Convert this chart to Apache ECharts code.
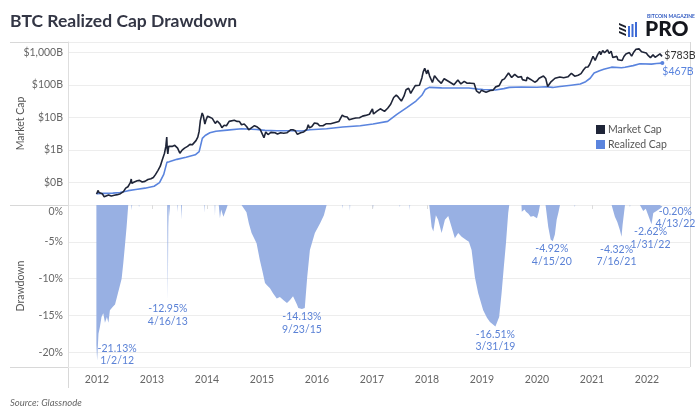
<!DOCTYPE html>
<html><head><meta charset="utf-8">
<script src="https://cdn.jsdelivr.net/npm/echarts@6/dist/echarts.min.js"></script>
<style>html,body{margin:0;padding:0;background:#fff}#c{width:700px;height:420px}</style>
</head><body><div id="c"></div>
<script>
// ---------- DATA ----------
const xTicks = [2012,2013,2014,2015,2016,2017,2018,2019,2020,2021,2022];
const mcTicksB = [0.1,1,10,100,1000];
const ddTicks = [0,-5,-10,-15,-20];

const mcDates = ['2011-12-29','2012-01-03','2012-01-09','2012-01-14','2012-01-22','2012-02-05','2012-02-18','2012-03-01','2012-03-18','2012-04-05','2012-04-25','2012-05-15','2012-06-05','2012-06-25','2012-07-10','2012-07-25','2012-08-10','2012-08-16','2012-08-20','2012-09-05','2012-09-25','2012-10-10','2012-10-28','2012-11-15','2012-12-05','2012-12-25','2013-01-10','2013-01-25','2013-02-10','2013-02-25','2013-03-10','2013-03-25','2013-04-03','2013-04-09','2013-04-12','2013-04-16','2013-04-22','2013-05-01','2013-05-15','2013-06-01','2013-06-20','2013-07-05','2013-07-20','2013-08-05','2013-08-25','2013-09-10','2013-09-25','2013-10-05','2013-10-20','2013-11-01','2013-11-10','2013-11-18','2013-11-30','2013-12-07','2013-12-12','2013-12-18','2013-12-26','2014-01-05','2014-01-20','2014-02-05','2014-02-25','2014-03-10','2014-03-28','2014-04-10','2014-04-25','2014-05-10','2014-05-28','2014-06-10','2014-07-01','2014-07-20','2014-08-05','2014-08-18','2014-09-05','2014-09-22','2014-10-05','2014-10-25','2014-11-12','2014-12-01','2014-12-20','2015-01-01','2015-01-14','2015-01-26','2015-02-10','2015-03-01','2015-03-12','2015-03-28','2015-04-14','2015-05-05','2015-05-25','2015-06-15','2015-07-10','2015-07-25','2015-08-10','2015-08-24','2015-09-15','2015-10-05','2015-10-25','2015-11-04','2015-11-12','2015-11-28','2015-12-15','2016-01-05','2016-01-18','2016-02-10','2016-03-01','2016-04-01','2016-05-01','2016-05-25','2016-06-17','2016-07-01','2016-07-20','2016-08-02','2016-08-25','2016-09-15','2016-10-10','2016-10-30','2016-11-20','2016-12-15','2017-01-04','2017-01-11','2017-02-01','2017-02-25','2017-03-10','2017-03-25','2017-04-15','2017-05-05','2017-05-25','2017-06-11','2017-06-25','2017-07-15','2017-08-01','2017-08-15','2017-09-01','2017-09-15','2017-09-28','2017-10-15','2017-10-28','2017-11-12','2017-11-28','2017-12-07','2017-12-17','2017-12-30','2018-01-07','2018-01-18','2018-02-06','2018-02-20','2018-03-05','2018-03-18','2018-04-06','2018-04-25','2018-05-05','2018-05-28','2018-06-29','2018-07-25','2018-08-14','2018-09-05','2018-09-25','2018-10-15','2018-11-10','2018-11-25','2018-12-15','2018-12-28','2019-01-07','2019-01-28','2019-02-07','2019-02-25','2019-03-15','2019-04-02','2019-04-25','2019-05-15','2019-05-30','2019-06-10','2019-06-26','2019-07-17','2019-07-28','2019-08-06','2019-08-28','2019-09-20','2019-09-26','2019-10-23','2019-10-27','2019-11-20','2019-12-17','2019-12-31','2020-01-15','2020-02-13','2020-02-28','2020-03-12','2020-04-01','2020-04-30','2020-05-10','2020-06-01','2020-06-27','2020-07-25','2020-08-17','2020-09-08','2020-10-01','2020-10-20','2020-11-05','2020-11-20','2020-12-05','2020-12-17','2021-01-08','2021-01-22','2021-02-08','2021-02-21','2021-02-28','2021-03-13','2021-03-25','2021-04-14','2021-04-25','2021-05-08','2021-05-19','2021-06-01','2021-06-15','2021-06-22','2021-07-05','2021-07-20','2021-08-01','2021-08-14','2021-09-06','2021-09-21','2021-10-06','2021-10-20','2021-10-28','2021-11-09','2021-11-26','2021-12-04','2021-12-27','2022-01-10','2022-01-24','2022-02-10','2022-02-24','2022-03-08','2022-03-28','2022-04-11','2022-04-13'];
const mcValues = [0.045,0.042,0.058,0.05,0.052,0.046,0.037,0.04,0.042,0.039,0.041,0.043,0.046,0.053,0.068,0.075,0.1,0.13,0.096,0.105,0.115,0.118,0.105,0.11,0.125,0.132,0.145,0.18,0.24,0.32,0.5,0.8,1.3,2.5,1.1,0.76,1.3,1.2,1.3,1.4,1.15,0.8,1.0,1.15,1.3,1.5,1.45,1.55,1.95,2.5,3.8,8.0,13.8,11.5,10.5,6.3,8.5,11.0,10.2,9.4,6.6,7.8,6.4,4.9,5.8,5.6,7.6,8.2,8.2,7.6,7.5,6.0,6.3,5.2,4.2,4.9,5.6,5.1,4.3,4.3,2.4,3.6,3.0,3.5,4.0,3.4,3.1,3.4,3.3,3.4,4.2,4.2,3.9,3.05,3.4,3.6,4.3,6.0,4.8,5.3,6.8,6.5,5.6,5.6,6.4,6.4,7.0,7.5,11.8,10.7,10.4,8.5,9.2,9.7,9.8,11.0,11.6,12.6,18.2,12.8,15.5,18.5,19.8,15.4,19.2,25.5,41,48.5,42,32,45,71,79,55,70,95,100,98,164,250,323,218,285,190,118,190,194,135,112,155,167,125,101,142,107,128,112,113,110,66,56,68,71,60,60,67,69,87,95,142,153,140,231,169,170,211,172,179,145,135,171,147,121,131,160,188,158,89,121,160,160,175,165,177,227,185,198,222,285,346,355,428,754,568,860,1072,840,1138,970,1187,916,1085,692,684,750,590,630,559,745,893,978,764,1030,1243,1135,1272,1035,925,958,790,687,834,702,735,894,750,783];

const rcDates = ['2011-12-28','2012-01-02','2012-02-15','2012-04-15','2012-06-02','2012-07-27','2012-09-15','2012-11-15','2013-01-15','2013-02-20','2013-03-20','2013-04-10','2013-04-16','2013-04-25','2013-06-15','2013-08-15','2013-10-15','2013-11-10','2013-11-20','2013-12-01','2013-12-20','2014-01-20','2014-03-01','2014-05-15','2014-08-18','2014-11-26','2015-01-21','2015-04-09','2015-07-06','2015-09-23','2015-11-15','2016-03-05','2016-06-20','2016-10-15','2017-01-08','2017-04-15','2017-06-15','2017-08-20','2017-10-20','2017-11-28','2017-12-20','2018-01-16','2018-04-08','2018-07-05','2018-10-06','2018-11-15','2018-12-07','2019-01-09','2019-03-31','2019-05-26','2019-07-01','2019-09-20','2020-01-01','2020-02-27','2020-04-15','2020-06-02','2020-08-15','2020-10-15','2020-11-20','2020-12-20','2021-01-15','2021-02-20','2021-03-20','2021-05-11','2021-07-16','2021-08-08','2021-10-01','2021-11-15','2022-01-31','2022-03-05','2022-04-13'];
const rcValues = [0.046,0.044,0.047,0.048,0.05,0.057,0.062,0.068,0.078,0.1,0.18,0.42,0.37,0.44,0.52,0.6,0.72,0.9,1.4,2.3,2.8,3.4,3.8,4.1,4.5,4.27,4.02,3.93,3.92,3.86,4.23,4.5,5.1,5.6,6.3,7.6,12.5,20,32,48,72,84,81,80,80,76,74,72,70,77,84,86,85,88,83.7,89,98,106,125,160,230,270,300,350,335,350,390,445,434,452,467];

const ddDates = ['2011-12-28','2012-01-02','2012-01-11','2012-01-21','2012-01-31','2012-02-12','2012-02-23','2012-03-07','2012-03-17','2012-03-27','2012-04-17','2012-04-30','2012-05-13','2012-06-02','2012-06-13','2012-06-24','2012-07-05','2012-07-16','2012-07-27','2012-08-17','2012-08-19','2012-08-22','2012-10-05','2012-10-07','2012-10-09','2013-04-12','2013-04-16','2013-04-19','2013-04-23','2013-04-26','2013-04-30','2013-06-19','2013-06-21','2013-06-23','2013-07-13','2013-07-16','2013-07-19','2013-12-14','2013-12-16','2013-12-18','2014-02-21','2014-02-23','2014-02-25','2014-03-20','2014-03-28','2014-04-05','2014-04-20','2014-05-10','2014-05-18','2014-08-18','2014-09-20','2014-10-06','2014-10-24','2014-11-26','2014-12-18','2015-01-04','2015-01-21','2015-02-03','2015-02-23','2015-03-15','2015-04-09','2015-04-30','2015-05-22','2015-06-16','2015-07-06','2015-07-26','2015-08-08','2015-08-21','2015-08-30','2015-09-23','2015-10-12','2015-10-28','2015-11-15','2015-12-18','2016-01-21','2016-02-16','2016-03-05','2016-06-18','2016-06-20','2016-06-22','2016-08-05','2016-08-07','2016-08-09','2017-01-06','2017-01-08','2017-01-10','2017-07-03','2017-07-05','2017-07-07','2017-09-07','2017-09-09','2017-09-11','2018-01-16','2018-02-01','2018-02-12','2018-03-01','2018-03-16','2018-04-08','2018-04-30','2018-05-22','2018-06-13','2018-07-05','2018-07-27','2018-08-19','2018-09-21','2018-10-06','2018-10-24','2018-11-15','2018-12-07','2019-01-09','2019-02-03','2019-02-23','2019-03-31','2019-04-25','2019-05-11','2019-05-26','2019-06-09','2019-06-24','2019-07-01','2019-09-20','2019-09-22','2019-10-10','2019-10-20','2019-11-05','2019-11-20','2019-12-08','2020-01-01','2020-01-12','2020-01-21','2020-02-27','2020-03-16','2020-04-01','2020-04-15','2020-04-29','2020-05-11','2020-05-23','2020-06-02','2020-09-07','2020-09-09','2020-09-11','2021-05-11','2021-06-02','2021-06-18','2021-07-05','2021-07-16','2021-07-23','2021-08-01','2021-08-08','2021-09-08','2021-09-10','2021-09-12','2021-11-15','2021-12-07','2021-12-24','2022-01-09','2022-01-31','2022-02-12','2022-03-05','2022-03-16','2022-03-27','2022-04-13'];
const ddValues = [-19.0,-21.13,-17.5,-16.5,-15.2,-14.7,-16.0,-15.2,-16.0,-14.3,-13.8,-13.5,-12.5,-10.9,-10.0,-7.9,-5.5,-3.0,0,0,-0.7,0,0,-0.3,0,0,-12.95,-3.0,0,-1.6,0,0,-1.0,0,0,-2.0,0,0,-1.1,0,0,-1.5,0,0,-1.8,-0.6,-1.6,-0.5,0,0,-1.0,-2.5,-3.8,-5.2,-7.5,-9.0,-10.6,-10.9,-11.3,-12.0,-12.7,-12.5,-12.9,-13.3,-12.9,-12.4,-12.2,-13.5,-14.0,-14.13,-14.0,-9.8,-6.1,-3.8,-2.5,-1.4,0,0,-0.5,0,0,-0.8,0,0,-0.5,0,0,-0.3,0,0,-0.7,0,0,-3.0,-3.6,-1.4,-2.0,-3.8,-2.0,-1.5,-3.0,-4.5,-3.8,-4.3,-4.8,-5.0,-6.1,-9.8,-12.0,-14.3,-15.3,-15.9,-16.51,-15.2,-12.0,-8.4,-5.2,-1.1,0,0,-0.9,-0.6,-0.9,-1.2,-1.6,-1.5,-1.8,-1.0,0,0,-3.0,-4.7,-4.92,-4.0,-2.0,-1.0,0,0,-0.3,0,0,-1.6,-2.3,-3.4,-4.32,-2.7,-1.2,0,0,-0.3,0,0,-0.8,-0.5,-1.4,-2.62,-1.1,-0.8,-1.0,-0.5,-0.2];

const annDates = ['2012-01-02','2013-04-16','2015-09-23','2019-03-31','2020-04-15','2021-07-16','2022-01-31','2022-04-13'];
const annValues = [-21.13,-12.95,-14.13,-16.51,-4.92,-4.32,-2.62,-0.20];

// label placement (layout only)
const annOffsets = [[20,-6],[0,15],[0,14],[0,14],[-1,14],[-5,19],[-1,14],[13,11]];

// ---------- HELPERS ----------
function toYear(s){
  const p = s.split('-').map(Number);
  const t = Date.UTC(p[0], p[1]-1, p[2]);
  const a = Date.UTC(p[0],0,1), b = Date.UTC(p[0]+1,0,1);
  return p[0] + (t-a)/(b-a);
}
function mdy(s){ const p=s.split('-').map(Number); return p[1]+'/'+p[2]+'/'+String(p[0]).slice(2); }
const pair = (d,v) => d.map((x,i)=>[toYear(x), v[i]]);

const FONT = 'Lato, "Noto Sans", sans-serif';
const C_MC = '#1f2538', C_RC = '#5a84de', C_DD = '#98b0e3', C_ANN = '#5b82d6';
const XMIN = 2011.473, XMAX = 2022.782;

const chart = echarts.init(document.getElementById('c'), null, {renderer:'canvas'});
const axLabel = {color:'#666', fontSize:10.5, fontFamily:FONT};

chart.setOption({
  animation:false,
  textStyle:{fontFamily:FONT},
  grid:[{left:68,right:10,top:42,height:163},{left:68,right:10,top:205,height:162}],
  legend:{
    data:['Market Cap','Realized Cap'], orient:'vertical', left:591, top:119,
    icon:'rect', itemWidth:9, itemHeight:9, itemGap:4,
    textStyle:{color:'#555', fontSize:10.5, fontFamily:FONT, padding:[0,0,0,-2]}
  },
  xAxis:[
    {gridIndex:0,type:'value',min:XMIN,max:XMAX,show:false},
    {gridIndex:1,type:'value',min:XMIN,max:XMAX,
     axisLine:{show:false},
     axisTick:{show:true,customValues:xTicks,length:4,lineStyle:{color:'#dcdcdc'}},
     axisLabel:Object.assign({customValues:xTicks,formatter:v=>String(Math.round(v)),margin:7},axLabel),
     splitLine:{show:false}}
  ],
  yAxis:[
    {gridIndex:0,type:'log',logBase:10,min:Math.pow(10,-1.684),max:Math.pow(10,3.316),
     name:'Market Cap',nameLocation:'middle',nameGap:42,nameMoveOverlap:false,
     nameTextStyle:{color:'#555',fontSize:10.5,fontFamily:FONT},
     axisLine:{show:true,lineStyle:{color:'#dedede'}},axisTick:{show:false},
     axisLabel:Object.assign({showMinLabel:false,showMaxLabel:false,margin:5,
       formatter:v=>v<0.5?'$0B':'$'+Math.round(v).toLocaleString('en-US')+'B'},axLabel),
     splitLine:{lineStyle:{color:'#ededed'}}},
    {gridIndex:1,type:'value',min:-22,max:0,
     name:'Drawdown',nameLocation:'middle',nameGap:42,nameMoveOverlap:false,
     nameTextStyle:{color:'#555',fontSize:10.5,fontFamily:FONT},
     axisLine:{show:true,lineStyle:{color:'#dedede'}},axisTick:{show:false},
     axisLabel:Object.assign({showMinLabel:false,margin:5,
       formatter:v=>Math.round(v)===0?'{z|0%}':Math.round(v)+'%',
       rich:{z:{padding:[14,0,0,0],color:'#666',fontSize:10.5,fontFamily:FONT}}},axLabel),
     splitLine:{lineStyle:{color:'#ededed'}}}
  ],
  series:[
    {name:'Market Cap',type:'line',xAxisIndex:0,yAxisIndex:0,data:pair(mcDates,mcValues),
     showSymbol:false,color:C_MC,lineStyle:{width:1.6,color:C_MC},z:4,
     endLabel:{show:true,distance:2,formatter:p=>'$'+Math.round(p.value[1])+'B',
       color:'#333',fontSize:10.5,fontFamily:FONT}},
    {name:'Realized Cap',type:'line',xAxisIndex:0,yAxisIndex:0,data:pair(rcDates,rcValues),
     showSymbol:false,color:C_RC,lineStyle:{width:1.6,color:C_RC},z:3,
     endLabel:{show:true,distance:0,offset:[0,9],formatter:p=>'$'+Math.round(p.value[1])+'B',
       color:C_RC,fontSize:10.5,fontFamily:FONT},
     markPoint:{symbol:'circle',symbolSize:4,itemStyle:{color:C_RC},label:{show:false},
       data:[{coord:[toYear(rcDates[rcDates.length-1]), rcValues[rcValues.length-1]]}]}},
    {name:'Drawdown',type:'line',xAxisIndex:1,yAxisIndex:1,data:pair(ddDates,ddValues),
     showSymbol:false,color:C_DD,lineStyle:{width:0},areaStyle:{color:C_DD,opacity:1},z:2,
     markPoint:{symbol:'circle',symbolSize:1,itemStyle:{color:'rgba(0,0,0,0)'},
       data:annDates.map((d,i)=>({coord:[toYear(d),annValues[i]],
         label:{show:true,position:'inside',offset:annOffsets[i],
           formatter:annValues[i].toFixed(2)+'%\n'+mdy(d),
           color:C_ANN,fontSize:10.5,lineHeight:12.5,fontFamily:FONT,align:'center'}}))}}
  ],
  graphic:[
    {type:'text',left:10,top:12,style:{text:'BTC Realized Cap Drawdown',font:'bold 17.5px '+FONT,fill:'#333645'}},
    {type:'line',shape:{x1:10,y1:42.5,x2:690,y2:42.5},style:{stroke:'#d8d8d8',lineWidth:1},z:-1},
    {type:'line',shape:{x1:10,y1:205.5,x2:690,y2:205.5},style:{stroke:'#d8d8d8',lineWidth:1},z:-1},
    {type:'line',shape:{x1:10,y1:367.5,x2:690,y2:367.5},style:{stroke:'#d8d8d8',lineWidth:1},z:-1},
    {type:'line',shape:{x1:68.5,y1:42,x2:68.5,y2:388},style:{stroke:'#d8d8d8',lineWidth:1},z:-1},
    {type:'line',shape:{x1:690.5,y1:42,x2:690.5,y2:367},style:{stroke:'#d8d8d8',lineWidth:1},z:-1},
    {type:'text',left:10,top:398,style:{text:'Source: Glassnode',font:'italic 9.5px '+FONT,fill:'#666'}},
    // logo
    {type:'group',left:619,top:14,children:[
      {type:'polygon',shape:{points:[[0,9],[7,12],[7,14],[0,11]]},style:{fill:'#1b1f2b'}},
      {type:'polygon',shape:{points:[[0,13],[7,16],[7,18],[0,15]]},style:{fill:'#1b1f2b'}},
      {type:'polygon',shape:{points:[[0,17],[7,20],[7,22],[0,19]]},style:{fill:'#1b1f2b'}},
      {type:'rect',shape:{x:9,y:12,width:2,height:11},style:{fill:'#3d6ad6'}},
      {type:'rect',shape:{x:12.5,y:10,width:2,height:13},style:{fill:'#3d6ad6'}},
      {type:'rect',shape:{x:16,y:8,width:2,height:15},style:{fill:'#3d6ad6'}},
      {type:'text',x:28,y:0,style:{text:'BITCOIN MAGAZINE',font:'bold 5px '+FONT,fill:'#2e58c0'}},
      {type:'text',x:26,y:5,style:{text:'PRO',font:'900 21px '+FONT,fill:'#14161d'}}
    ]}
  ]
});
</script></body></html>
